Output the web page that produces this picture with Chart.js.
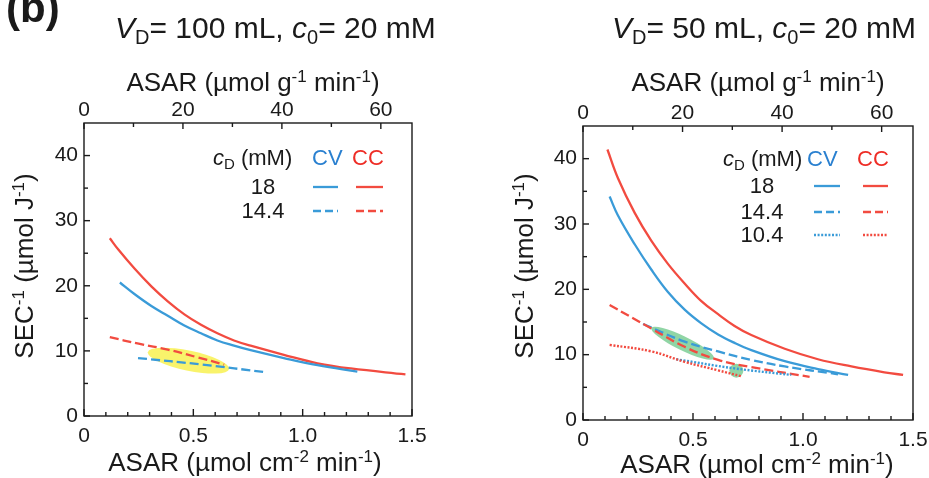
<!DOCTYPE html>
<html lang="en">
<head>
<meta charset="UTF-8">
<title>SEC vs ASAR</title>
<style>
  body { margin: 0; background: #fff; }
  .panel { position: absolute; top: 0; }
</style>
</head>
<body>
<div class="panel" style="left:0"><canvas id="left" width="465" height="478"></canvas></div>
<div class="panel" style="left:465px"><canvas id="right" width="464" height="478"></canvas></div>

<script src="https://cdn.jsdelivr.net/npm/chart.js"></script>
<script>
// axes
const xTicks = [0, 0.5, 1.0, 1.5];
const xTickLabels = ['0', '0.5', '1.0', '1.5'];
const topTicks = [0, 20, 40, 60];
const yTicks = [0, 10, 20, 30, 40];
const gPerCm2 = 44.2; // µmol g-1 min-1 per µmol cm-2 min-1

// left panel, V_D = 100 mL
const L_cc18_x = [0.118, 0.156, 0.232, 0.308, 0.383, 0.459, 0.535, 0.61, 0.686, 0.762, 0.914, 1.068, 1.22, 1.47];
const L_cc18_y = [27.3, 25.6, 22.6, 19.9, 17.6, 15.6, 14.0, 12.7, 11.6, 10.8, 9.4, 8.1, 7.3, 6.4];
const L_cv18_x = [0.164, 0.232, 0.308, 0.383, 0.459, 0.535, 0.61, 0.686, 0.762, 0.914, 1.068, 1.25];
const L_cv18_y = [20.5, 18.7, 16.9, 15.4, 13.9, 12.7, 11.6, 10.8, 10.1, 8.9, 7.8, 6.8];
const L_cc14_x = [0.118, 0.25, 0.383, 0.52, 0.641];
const L_cc14_y = [12.1, 11.1, 10.2, 9.0, 7.9];
const L_cv14_x = [0.247, 0.54, 0.835];
const L_cv14_y = [8.9, 7.9, 6.7];

// right panel, V_D = 50 mL
const R_cc18_x = [0.111, 0.159, 0.235, 0.311, 0.386, 0.462, 0.538, 0.614, 0.689, 0.765, 0.917, 1.068, 1.22, 1.37, 1.455];
const R_cc18_y = [41.4, 37.0, 31.7, 27.4, 23.9, 20.9, 18.2, 16.2, 14.4, 13.0, 10.9, 9.3, 8.2, 7.3, 6.9];
const R_cv18_x = [0.121, 0.159, 0.235, 0.311, 0.386, 0.462, 0.538, 0.614, 0.689, 0.765, 0.917, 1.068, 1.205];
const R_cv18_y = [34.2, 31.3, 26.9, 23.0, 19.6, 16.9, 14.8, 13.1, 11.8, 10.7, 9.0, 7.8, 6.9];
const R_cc14_x = [0.121, 0.311, 0.462, 0.614, 0.765, 1.03];
const R_cc14_y = [17.6, 14.0, 11.2, 9.2, 8.1, 6.6];
const R_cv14_x = [0.273, 0.462, 0.614, 0.765, 0.917, 1.159];
const R_cv14_y = [14.7, 12.0, 10.5, 9.2, 8.2, 7.0];
const R_cc10_x = [0.121, 0.311, 0.462, 0.614, 0.72];
const R_cc10_y = [11.5, 10.5, 8.9, 7.6, 6.7];
const R_cv10_x = [0.424, 0.689, 0.947];
const R_cv10_y = [9.3, 7.9, 6.9];

// highlighted regions: major axis end points in data units
const L_marks = [[0.292, 9.8, 0.664, 7.2]];
const R_marks = [[0.311, 14.1, 0.595, 9.4], [0.697, 7.55, 0.697, 7.55]];

const ink = '#1a1a1a';
const red = '#f24b40';
const blue = '#3a9bd8';
const family = "'Liberation Sans', Arial, Helvetica, sans-serif";

function pts(xs, ys) {
    return xs.map((x, i) => ({ x: x, y: ys[i] }));
}

function line(label, xs, ys, color, style) {
    return {
        label: label,
        data: pts(xs, ys),
        showLine: true,
        borderColor: color,
        borderWidth: style === 'dot' ? 2.4 : 2.3,
        borderDash: style === 'dash' ? [9, 4] : style === 'dot' ? [2, 1.6] : [],
        pointRadius: 0,
        tension: 0.4,
        fill: false
    };
}

// draws text made of parts [{t, i, sub, sup, b, c}]
function rich(ctx, parts, x, y, size, align) {
    const fontOf = p => (p.i ? 'italic ' : '') + (p.b ? 'bold ' : '') +
        Math.round(size * (p.sub || p.sup ? 0.66 : 1)) + 'px ' + family;
    let w = 0;
    parts.forEach(p => { ctx.font = fontOf(p); w += ctx.measureText(p.t).width; });
    let cx = align === 'center' ? x - w / 2 : align === 'right' ? x - w : x;
    ctx.textAlign = 'left';
    ctx.textBaseline = 'alphabetic';
    parts.forEach(p => {
        ctx.font = fontOf(p);
        ctx.fillStyle = p.c || ink;
        const dy = p.sup ? -size * 0.36 : p.sub ? size * 0.2 : 0;
        ctx.fillText(p.t, cx, y + dy);
        cx += ctx.measureText(p.t).width;
    });
}

function seg(ctx, x1, y1, x2, y2) {
    ctx.beginPath();
    ctx.moveTo(x1, y1);
    ctx.lineTo(x2, y2);
    ctx.stroke();
}

function makeFigure(cfg) {
    return {
        id: 'figure' + cfg.id,
        beforeDatasetsDraw(chart) {
            const ctx = chart.ctx, xs = chart.scales.x, ys = chart.scales.y;
            ctx.save();
            cfg.marks.forEach(m => {
                const x1 = xs.getPixelForValue(m[0]), y1 = ys.getPixelForValue(m[1]);
                const x2 = xs.getPixelForValue(m[2]), y2 = ys.getPixelForValue(m[3]);
                const len = Math.hypot(x2 - x1, y2 - y1) / 2;
                ctx.fillStyle = cfg.markColor;
                ctx.beginPath();
                ctx.ellipse((x1 + x2) / 2, (y1 + y2) / 2, Math.max(len, cfg.markHalf), cfg.markHalf,
                    Math.atan2(y2 - y1, x2 - x1), 0, Math.PI * 2);
                ctx.fill();
            });
            ctx.restore();
        },
        afterDraw(chart) {
            const ctx = chart.ctx, a = chart.chartArea;
            const xs = chart.scales.x, ys = chart.scales.y, xt = chart.scales.x2;
            ctx.save();
            ctx.strokeStyle = ink;
            ctx.lineWidth = 1.4;
            ctx.setLineDash([]);
            ctx.strokeRect(a.left, a.top, a.right - a.left, a.bottom - a.top);
            // inward ticks
            for (let k = 0; k <= 15; k++) {
                const p = xs.getPixelForValue(k / 10);
                seg(ctx, p, a.bottom, p, a.bottom - (k % 5 === 0 ? 7 : 4));
            }
            for (let k = 0; k <= 60; k += 10) {
                const p = xt.getPixelForValue(k);
                seg(ctx, p, a.top, p, a.top + (k % 20 === 0 ? 6 : 4));
            }
            for (let k = 0; k <= 40; k += 5) {
                const p = ys.getPixelForValue(k);
                seg(ctx, a.left, p, a.left + (k % 10 === 0 ? 6 : 4), p);
            }

            // titles
            if (cfg.tag) rich(ctx, [{ t: '(b)', b: true }], 6, 22, 42, 'left');
            rich(ctx, [{ t: 'V', i: true }, { t: 'D', sub: true }, { t: '= ' + cfg.vol + ' mL, ' },
                { t: 'c', i: true }, { t: '0', sub: true }, { t: '= 20 mM' }], cfg.titleX, 38, 30, 'left');
            rich(ctx, [{ t: 'ASAR (µmol g' }, { t: '-1', sup: true }, { t: ' min' }, { t: '-1', sup: true }, { t: ')' }],
                cfg.topTitleX, 91, 26, 'center');
            rich(ctx, [{ t: 'ASAR (µmol cm' }, { t: '-2', sup: true }, { t: ' min' }, { t: '-1', sup: true }, { t: ')' }],
                cfg.botTitleX, cfg.botTitleY, 26, 'center');
            ctx.save();
            ctx.translate(cfg.yTitleX, 266);
            ctx.rotate(-Math.PI / 2);
            rich(ctx, [{ t: 'SEC' }, { t: '-1', sup: true }, { t: ' (µmol J' }, { t: '-1', sup: true }, { t: ')' }],
                0, 0, 26, 'center');
            ctx.restore();

            // legend
            const lg = cfg.legend;
            rich(ctx, [{ t: 'c', i: true }, { t: 'D', sub: true }, { t: ' (mM)' }], lg.x, lg.y, 22, 'left');
            rich(ctx, [{ t: 'CV', c: '#2a80d0' }], lg.cvX, lg.y, 22, 'left');
            rich(ctx, [{ t: 'CC', c: '#ee2d26' }], lg.ccX, lg.y, 22, 'left');
            lg.rows.forEach((r, i) => {
                const by = lg.rowY[i];
                rich(ctx, [{ t: r }], lg.valX, by, 22, 'center');
                const style = lg.styles[i];
                ctx.lineWidth = style === 'dot' ? 2.4 : 2.3;
                ctx.setLineDash(style === 'dash' ? [8, 4] : style === 'dot' ? [2, 1.6] : []);
                ctx.strokeStyle = blue;
                seg(ctx, lg.blue[0], by - 7, lg.blue[1], by - 7);
                ctx.strokeStyle = red;
                seg(ctx, lg.red[0], by - 7, lg.red[1], by - 7);
            });
            ctx.restore();
        }
    };
}

function makeChart(canvasId, datasets, cfg) {
    const tickFont = { family: family, size: 21 };
    return new Chart(document.getElementById(canvasId), {
        type: 'scatter',
        data: { datasets: datasets },
        options: {
            responsive: false,
            animation: false,
            events: [],
            layout: { padding: { left: 0, right: cfg.padRight, top: 0, bottom: 0 } },
            plugins: { legend: { display: false }, tooltip: { enabled: false } },
            scales: {
                x: {
                    type: 'linear', position: 'bottom', min: 0, max: 1.5,
                    afterBuildTicks: s => { s.ticks = xTicks.map(v => ({ value: v })); },
                    afterFit: s => { s.height = cfg.bottomH; },
                    ticks: { callback: (v, i) => xTickLabels[i], font: tickFont, color: ink, padding: 0, maxRotation: 0, autoSkip: false },
                    grid: { display: false }, border: { display: false }
                },
                x2: {
                    type: 'linear', position: 'top', min: 0, max: 1.5 * gPerCm2,
                    afterBuildTicks: s => { s.ticks = topTicks.map(v => ({ value: v })); },
                    afterFit: s => { s.height = cfg.topH; },
                    ticks: { font: tickFont, color: ink, padding: -8, maxRotation: 0, autoSkip: false },
                    grid: { display: false }, border: { display: false }
                },
                y: {
                    type: 'linear', min: 0, max: 45,
                    afterBuildTicks: s => { s.ticks = yTicks.map(v => ({ value: v })); },
                    afterFit: s => { s.width = cfg.leftW; },
                    ticks: { font: tickFont, color: ink, padding: -2 },
                    grid: { display: false }, border: { display: false }
                }
            }
        },
        plugins: [makeFigure(cfg)]
    });
}

makeChart('left', [
    line('CC 14.4', L_cc14_x, L_cc14_y, red, 'dash'),
    line('CV 14.4', L_cv14_x, L_cv14_y, blue, 'dash'),
    line('CV 18', L_cv18_x, L_cv18_y, blue, 'solid'),
    line('CC 18', L_cc18_x, L_cc18_y, red, 'solid')
], {
    id: 'L', tag: true, vol: '100', padRight: 53, bottomH: 62, topH: 123, leftW: 84,
    titleX: 115, topTitleX: 253, botTitleX: 245, botTitleY: 471, yTitleX: 33,
    marks: L_marks, markColor: 'rgba(247, 240, 70, 0.8)', markHalf: 10,
    legend: {
        x: 213, y: 165, cvX: 312, ccX: 352, valX: 263,
        rows: ['18', '14.4'], rowY: [194, 218], styles: ['solid', 'dash'],
        blue: [313, 338], red: [356, 383]
    }
});

makeChart('right', [
    line('CC 10.4', R_cc10_x, R_cc10_y, red, 'dot'),
    line('CV 10.4', R_cv10_x, R_cv10_y, blue, 'dot'),
    line('CC 14.4', R_cc14_x, R_cc14_y, red, 'dash'),
    line('CV 14.4', R_cv14_x, R_cv14_y, blue, 'dash'),
    line('CV 18', R_cv18_x, R_cv18_y, blue, 'solid'),
    line('CC 18', R_cc18_x, R_cc18_y, red, 'solid')
], {
    id: 'R', tag: false, vol: '50', padRight: 16, bottomH: 58, topH: 126, leftW: 118,
    titleX: 147, topTitleX: 293, botTitleX: 292, botTitleY: 473, yTitleX: 68,
    marks: R_marks, markColor: 'rgba(70, 185, 105, 0.6)', markHalf: 7,
    legend: {
        x: 258, y: 166, cvX: 342, ccX: 392, valX: 297,
        rows: ['18', '14.4', '10.4'], rowY: [193, 219, 242], styles: ['solid', 'dash', 'dot'],
        blue: [349, 375], red: [398, 423]
    }
});
</script>
</body>
</html>
